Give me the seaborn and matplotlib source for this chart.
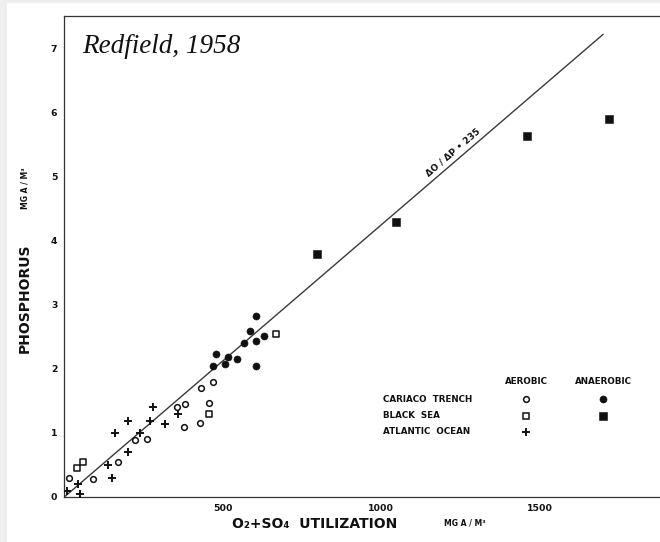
import numpy as np
import pandas as pd
import matplotlib
matplotlib.use("Agg")
import matplotlib.pyplot as plt
from matplotlib.patches import Rectangle
from matplotlib.lines import Line2D
from matplotlib.ticker import FixedLocator, FuncFormatter
import seaborn as sns

# ---------------- data ----------------
cariaco_aer_x = [14, 90, 168, 223, 260, 357, 380, 377, 428, 430, 457, 468]
cariaco_aer_y = [0.30, 0.28, 0.55, 0.89, 0.90, 1.40, 1.45, 1.09, 1.15, 1.70, 1.47, 1.80]

black_aer_x = [40, 59, 458, 667]
black_aer_y = [0.45, 0.55, 1.30, 2.55]

atlantic_x = [10, 50, 42, 139, 150, 160, 200, 200, 240, 270, 280, 318, 359]
atlantic_y = [0.09, 0.05, 0.20, 0.50, 0.30, 1.00, 0.70, 1.19, 1.00, 1.19, 1.40, 1.14, 1.29]

cariaco_ana_x = [606, 587, 629, 606, 566, 477, 517, 546, 506, 468, 606]
cariaco_ana_y = [2.83, 2.59, 2.52, 2.44, 2.40, 2.24, 2.19, 2.15, 2.08, 2.04, 2.04]

black_ana_x = [797, 1046, 1460, 1717]
black_ana_y = [3.80, 4.30, 5.64, 5.91]

ratio_line_x = [0, 1700]
ratio_line_y = [0.0, 7.23]

x_ticks = list(range(0, 1900, 100))
x_tick_labels = {500: "500", 1000: "1000", 1500: "1500"}
y_ticks = [0, 1, 2, 3, 4, 5, 6, 7]

legend_rows = ["CARIACO  TRENCH", "BLACK  SEA", "ATLANTIC  OCEAN"]
legend_cols = ["AEROBIC", "ANAEROBIC"]

# ---------------- figure ----------------
sns.set_theme(style="white")
plt.rcParams["font.family"] = ["DejaVu Sans"]

W, H = 660, 542
fig = plt.figure(figsize=(W / 100, H / 100), dpi=100, facecolor="white")
# light grey border strips of the scanned page
fig.patches.append(Rectangle((0, 0), 7 / W, 1, transform=fig.transFigure,
                             facecolor="#efefef", edgecolor="none", zorder=0))
fig.patches.append(Rectangle((0, 1 - 3 / H), 1, 3 / H, transform=fig.transFigure,
                             facecolor="#efefef", edgecolor="none", zorder=0))

x0_px, y0_px, top_px = 64.3, 497, 16
ax = fig.add_axes([x0_px / W, (H - y0_px) / H, (W - x0_px) / W, (y0_px - top_px) / H])
ax.set_facecolor("white")
ax.set_xlim(0, (W - x0_px) / 0.317)
ax.set_ylim(0, (y0_px - top_px) / 64.0)

ink = "#111111"
frames = [
    pd.DataFrame({"x": cariaco_aer_x, "y": cariaco_aer_y}),
    pd.DataFrame({"x": black_aer_x, "y": black_aer_y}),
    pd.DataFrame({"x": atlantic_x, "y": atlantic_y}),
    pd.DataFrame({"x": cariaco_ana_x, "y": cariaco_ana_y}),
    pd.DataFrame({"x": black_ana_x, "y": black_ana_y}),
]

# marker styles: (marker, size, face, edge width)
styles = {
    "ca": ("o", 17, "white", 1.1),
    "ba": ("s", 19, "white", 1.1),
    "at": ("+", 28, ink, 1.4),
    "cn": ("o", 26, ink, 0.4),
    "bn": ("s", 28, ink, 0.4),
}

sns.lineplot(x=ratio_line_x, y=ratio_line_y, ax=ax, color="#3a3a3a", lw=1.0, zorder=2)

for df, key in zip(frames, ["ca", "ba", "at", "cn", "bn"]):
    m, s, fc, lw = styles[key]
    if m == "+":
        sns.scatterplot(data=df, x="x", y="y", ax=ax, marker=m, s=s,
                        color=ink, linewidth=lw, zorder=3)
    else:
        sns.scatterplot(data=df, x="x", y="y", ax=ax, marker=m, s=s,
                        facecolor=fc, edgecolor=ink, linewidth=lw, zorder=3)

# line annotation, rotated along the line
p0 = ax.transData.transform((ratio_line_x[0], ratio_line_y[0]))
p1 = ax.transData.transform((ratio_line_x[1], ratio_line_y[1]))
ang = np.degrees(np.arctan2(p1[1] - p0[1], p1[0] - p0[0]))
ax.text(1226, 5.39, "ΔO / ΔP • 235", rotation=ang, rotation_mode="anchor",
        ha="center", va="center", fontsize=6.5, fontweight="bold", color=ink)

# axes styling
ax.spines["right"].set_visible(False)
for s in ["left", "bottom", "top"]:
    ax.spines[s].set_color("#333333")
    ax.spines[s].set_linewidth(0.9)
ax.xaxis.set_major_locator(FixedLocator(x_ticks))
ax.xaxis.set_major_formatter(FuncFormatter(lambda v, p: x_tick_labels.get(int(round(v)), "")))
ax.yaxis.set_major_locator(FixedLocator(y_ticks))
ax.tick_params(axis="both", direction="in", length=4.2, width=0.8, color="#333333",
               labelsize=6.7, labelcolor=ink, pad=5)
for lab in ax.get_xticklabels() + ax.get_yticklabels():
    lab.set_fontweight("bold")
ax.set_xlabel("")
ax.set_ylabel("")

# axis titles
fig.text(25 / W, 1 - 298 / H, "PHOSPHORUS", rotation=90, ha="center", va="center",
         fontsize=10, fontweight="bold", color=ink)
fig.text(25 / W, 1 - 188 / H, "MG A / M³", rotation=90, ha="center", va="center",
         fontsize=5.5, fontweight="bold", color=ink)
fig.text(315 / W, 1 - 524 / H, "O₂+SO₄  UTILIZATION", ha="center", va="center",
         fontsize=10, fontweight="bold", color=ink)
fig.text(465 / W, 1 - 523 / H, "MG A / M³", ha="center", va="center",
         fontsize=5.5, fontweight="bold", color=ink)

# citation
fig.text(82 / W, 1 - 53 / H, "Redfield, 1958", ha="left", va="baseline",
         fontsize=19.5, style="italic", family="Liberation Serif", color=ink)

# legend table
col_px = [526, 603]
row_py = [399, 416, 432]
head_py = 381
lab_px = 383
for cx, name in zip(col_px, legend_cols):
    fig.text(cx / W, 1 - head_py / H, name, ha="center", va="center",
             fontsize=6.3, fontweight="bold", color=ink)
for ry, name in zip(row_py, legend_rows):
    fig.text(lab_px / W, 1 - ry / H, name, ha="left", va="center",
             fontsize=6.3, fontweight="bold", color=ink)
leg_marks = [(0, 0, "ca"), (0, 1, "ba"), (0, 2, "at"), (1, 0, "cn"), (1, 1, "bn")]
for ci, ri, key in leg_marks:
    m, s, fc, lw = styles[key]
    ms = np.sqrt(s)
    if m == "+":
        art = Line2D([col_px[ci] / W], [1 - row_py[ri] / H], marker=m, markersize=ms,
                     color=ink, markeredgewidth=lw, linestyle="none",
                     transform=fig.transFigure)
    else:
        art = Line2D([col_px[ci] / W], [1 - row_py[ri] / H], marker=m, markersize=ms,
                     markerfacecolor=fc, markeredgecolor=ink, markeredgewidth=lw,
                     linestyle="none", transform=fig.transFigure)
    fig.add_artist(art)

fig.savefig("out.png", dpi=100, facecolor="white")
